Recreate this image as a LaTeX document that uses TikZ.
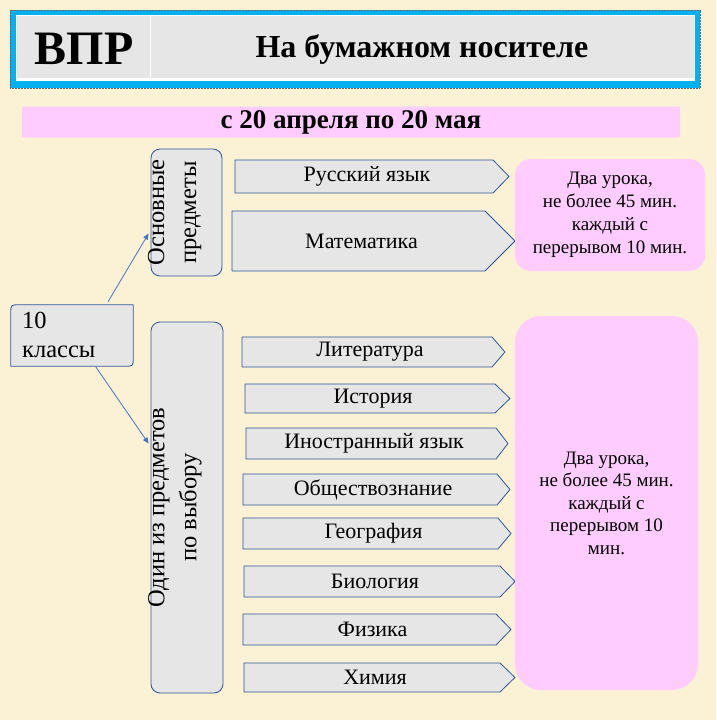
\documentclass[tikz,border=0pt]{standalone}
\usepackage{fontspec}
\setmainfont{Liberation Serif}
\usetikzlibrary{arrows.meta,calc}
\definecolor{parchment}{HTML}{FBF1D5}
\definecolor{boxgray}{HTML}{E6E6E6}
\definecolor{boxline}{HTML}{2F5597}
\definecolor{arrowblue}{HTML}{4472C4}
\definecolor{lilac}{HTML}{FFCCFF}
\definecolor{cyanband}{HTML}{00B0F0}
\tikzset{
  panel/.style={draw=boxline, fill=boxgray, line width=0.8pt, rounded corners=9pt, inner sep=0pt},
  subj/.style={draw=boxline, fill=boxgray, line width=0.8pt},
  note/.style={fill=lilac, rounded corners=#1, inner sep=0pt},
  link/.style={draw=arrowblue, line width=0.8pt, -{Triangle[width=5pt,length=6pt]}},
}
\begin{document}
\begin{tikzpicture}[x=1pt, y=-1pt, line join=round, font=\fontsize{22}{24}\selectfont]
  \useasboundingbox (0,0) rectangle (716,720);
  \fill[parchment] (0,0) rectangle (716,720);
  % шапка
  \draw[fill=cyanband, draw=black!60, densely dotted, line width=0.5pt] (10,10) rectangle (700,88);
  \fill[white] (16,15) rectangle (695,81);
  \fill[boxgray] (17,16) rectangle (694,78);
  \draw[white, line width=1pt] (150,16) -- (150,78);
  \node[font=\fontsize{48}{50}\bfseries] (vpr) at (84,49) {ВПР};
  \node[font=\fontsize{32}{34}\bfseries] (paper) at (422,49) {На бумажном носителе};
  % сроки
  \node[note=2pt, minimum width=658, minimum height=31, font=\fontsize{27}{29}\bfseries] (dates) at (351,122) {с 20 апреля по 20 мая};
  % классы и группы предметов
  \node[minimum width=122, minimum height=61, inner sep=0pt] (ten) at (72,335.5) {};
  \draw[draw=boxline, fill=boxgray, line width=0.8pt]
    (ten.north east) -- ([xshift=8pt]ten.north west) .. controls (ten.north west) .. ([yshift=-8pt]ten.north west)
    -- (ten.south west) -- ([xshift=-8pt]ten.south east) .. controls (ten.south east) .. ([yshift=8pt]ten.south east) -- cycle;
  \node[anchor=north west, align=left, font=\fontsize{24.5}{29}\selectfont, inner sep=0pt] (tentxt) at (22,312) {10\\классы};
  \node[panel, minimum width=71, minimum height=127] (core) at (186.5,212.5) {};
  \node[rotate=90, align=center, font=\fontsize{24.5}{32}\selectfont] (coretxt) at ($(core.center)+(-12,0)$) {Основные\\предметы};
  \node[panel, minimum width=72, minimum height=371] (choice) at (187,507.5) {};
  \node[rotate=90, align=center, font=\fontsize{24.5}{32}\selectfont] (choicetxt) at ($(choice.center)+(-12,0)$) {Один из предметов\\по выбору};
  \draw[link] ($(ten.north)+(36,-3)$) -- ($(core.west)+(-2,21)$);
  \draw[link] ($(ten.south)+(24,1)$) -- ($(choice.west)+(-2,-64)$);
  % предметы
  \foreach \nm/\xl/\yt/\yb/\xp/\xt/\txt in {
      rus/235/160/193/493/509/Русский язык,
      math/232/211/271/485/515/Математика,
      lit/242/337/367/492/505/Литература,
      hist/245/384/413/495/510/История,
      lang/246/428/459/496/508/Иностранный язык,
      soc/243/474/505/497/510/Обществознание,
      geo/243/518/549/498/511/География,
      bio/244/566/597/500/515/Биология,
      phys/243/614/645/496/511/Физика,
      chem/244/663/692/500/515/Химия}
  {
    \draw[subj] (\xl,\yt) -- (\xp,\yt) -- (\xt,{(\yt+\yb)/2}) -- (\xp,\yb) -- (\xl,\yb) -- cycle;
    \node (\nm) at ({(\xl+\xp)/2+3},{(\yt+\yb)/2}) {\txt};
  }
  % длительность
  \node[note=16pt, minimum width=190, minimum height=112] (timecore) at (610,215) {};
  \node[align=center, font=\fontsize{19}{23}\selectfont] (timecoretxt) at (timecore.center) {Два урока,\\не более 45 мин.\\каждый с\\перерывом 10 мин.};
  \node[note=26pt, minimum width=183, minimum height=374] (timechoice) at (606.5,503) {};
  \node[align=center, font=\fontsize{19}{22.5}\selectfont] (timechoicetxt) at (timechoice.center) {Два урока,\\не более 45 мин.\\каждый с\\перерывом 10\\мин.};
\end{tikzpicture}
\end{document}
